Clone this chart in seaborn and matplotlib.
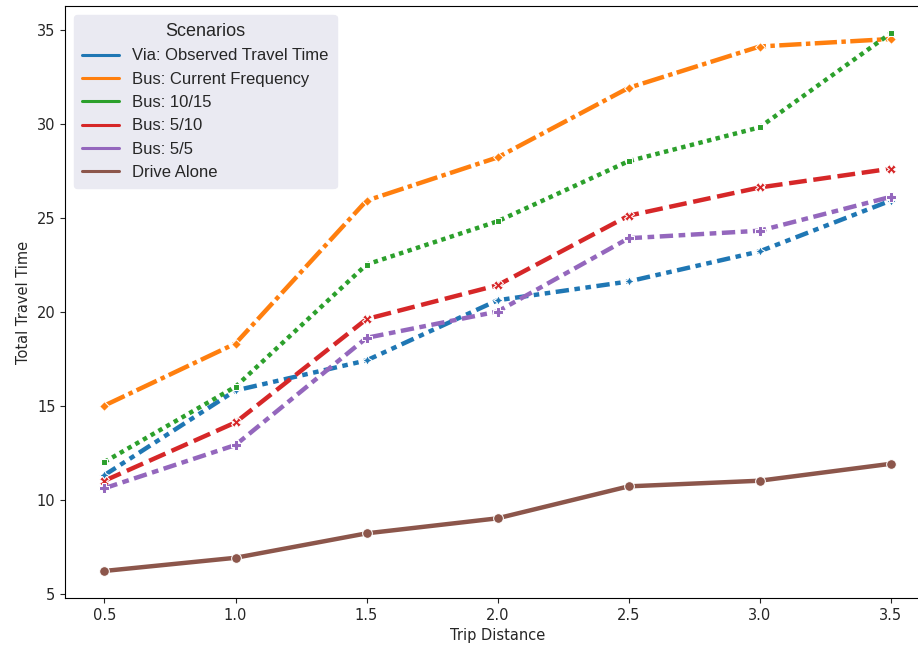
import numpy as np
import pandas as pd
import matplotlib.pyplot as plt
import seaborn as sns
from matplotlib.lines import Line2D

distance = [0.5, 1.0, 1.5, 2.0, 2.5, 3.0, 3.5]
scenarios = ["Via: Observed Travel Time", "Bus: Current Frequency", "Bus: 10/15",
             "Bus: 5/10", "Bus: 5/5", "Drive Alone"]
via = [11.3, 15.8, 17.4, 20.6, 21.6, 23.2, 25.9]
bus_current = [15.0, 18.3, 25.9, 28.2, 31.9, 34.1, 34.5]
bus_10_15 = [12.0, 16.0, 22.5, 24.8, 28.0, 29.8, 34.8]
bus_5_10 = [11.0, 14.1, 19.6, 21.4, 25.1, 26.6, 27.6]
bus_5_5 = [10.6, 12.9, 18.6, 20.0, 23.9, 24.3, 26.1]
drive_alone = [6.2, 6.9, 8.2, 9.0, 10.7, 11.0, 11.9]
# style order decides dashes/markers (drive alone first -> solid + circle)
style_order = ["Drive Alone", "Bus: 5/10", "Bus: 10/15", "Bus: 5/5",
               "Bus: Current Frequency", "Via: Observed Travel Time"]

series = [via, bus_current, bus_10_15, bus_5_10, bus_5_5, drive_alone]
df = pd.DataFrame({
    "Trip Distance": np.tile(distance, len(scenarios)),
    "Total Travel Time": np.concatenate(series),
    "Scenario": np.repeat(scenarios, len(distance)),
})

sns.set_style("ticks")
plt.rcParams['font.family'] = ['DejaVu Sans']

fig, ax = plt.subplots(figsize=(9.18, 6.47), dpi=100)
palette = sns.color_palette("tab10", len(scenarios))
sns.lineplot(data=df, x="Trip Distance", y="Total Travel Time",
             hue="Scenario", hue_order=scenarios, palette=palette,
             style="Scenario", style_order=style_order,
             markers=True, dashes=True, linewidth=3.2, markersize=7,
             markeredgecolor="white", ax=ax, legend=False)

ax.set_xticks(distance)
ax.set_xlabel("Trip Distance", fontsize=10.5)
ax.set_ylabel("Total Travel Time", fontsize=10.5)
ax.tick_params(labelsize=10.5)
for s in ax.spines.values():
    s.set_color("black")

handles = [Line2D([0], [0], color=c, lw=2.2) for c in palette]
leg = ax.legend(handles, scenarios, title="Scenarios", loc="upper left",
                prop={"family": "Liberation Sans", "size": 12},
                frameon=True, facecolor="#eaeaf2", edgecolor="#eaeaf2",
                framealpha=1, handlelength=2.2, borderaxespad=0.5,
                labelspacing=0.5, borderpad=0.5)
leg.get_title().set_fontfamily("Liberation Sans")
leg.get_title().set_fontsize(13)

plt.subplots_adjust(left=0.071, right=1.013, top=0.99, bottom=0.076)
plt.savefig("out.png", dpi=100)
